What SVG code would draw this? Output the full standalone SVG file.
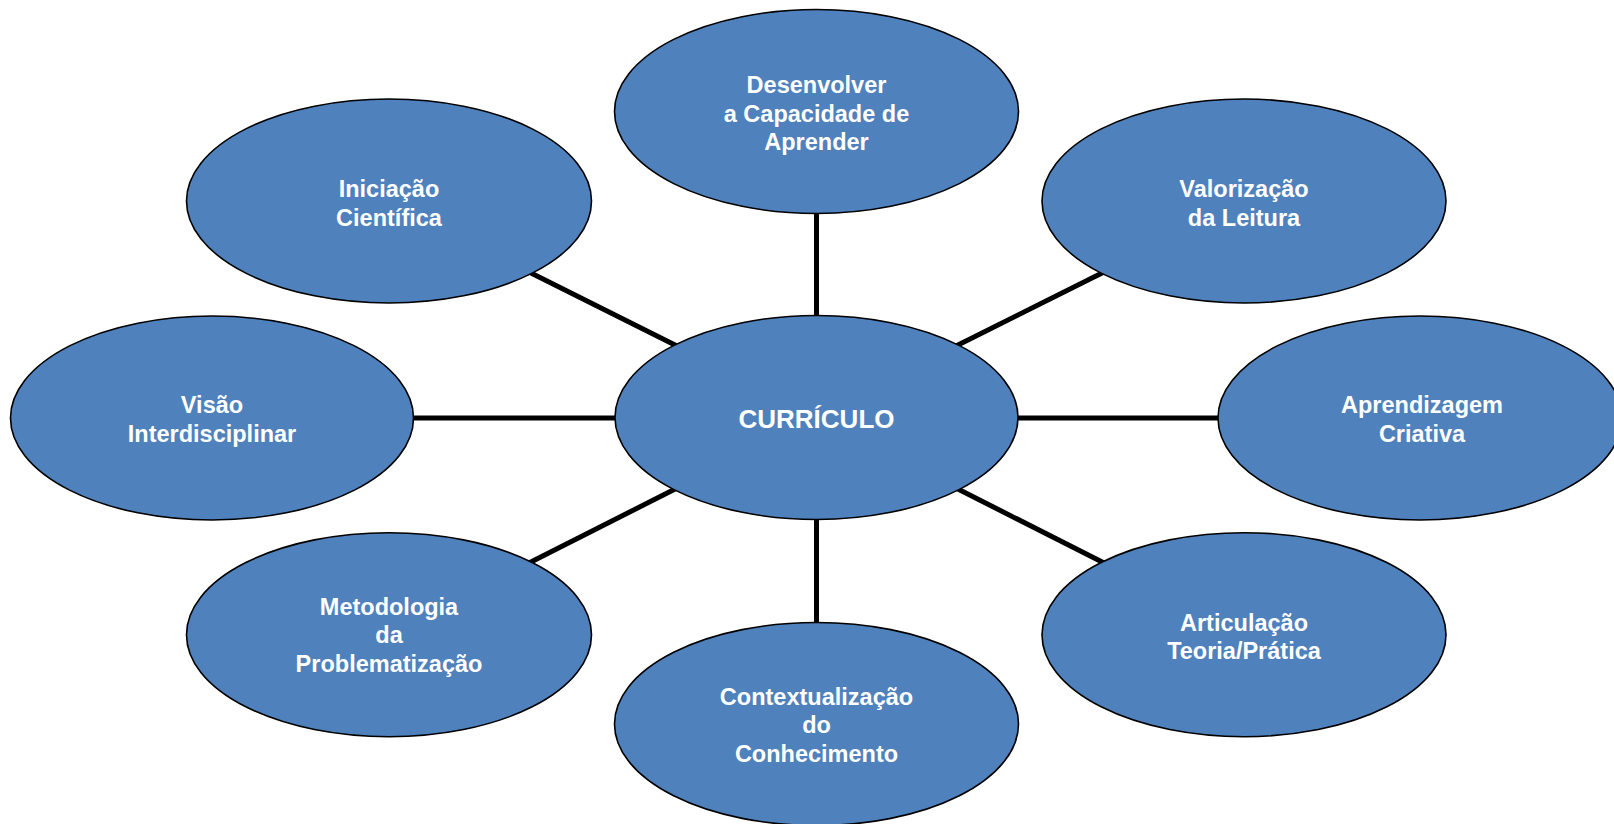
<svg xmlns="http://www.w3.org/2000/svg" width="1614" height="824" viewBox="0 0 1614 824">
<style>
.node ellipse{fill:#4F81BD;stroke:#000;stroke-width:1.6}
.node text{font-family:"Liberation Sans",Arial,sans-serif;font-weight:bold;font-size:23.5px;fill:#fff;text-anchor:middle}
#connectors line{stroke:#000;stroke-width:5}
</style>
<rect width="1614" height="824" fill="#fff"/>
<g id="connectors">
<line x1="816.5" y1="200" x2="816.5" y2="330"/>
<line x1="816.5" y1="505" x2="816.5" y2="635"/>
<line x1="400" y1="418" x2="630" y2="418"/>
<line x1="1000" y1="418" x2="1230" y2="418"/>
<line x1="522" y1="268.5" x2="685" y2="350"/>
<line x1="1111" y1="268.5" x2="948" y2="350"/>
<line x1="522" y1="566.5" x2="685" y2="484"/>
<line x1="1111" y1="566.5" x2="948" y2="484"/>
</g>
<g id="curriculo" class="node">
<ellipse cx="816.5" cy="417.5" rx="201.5" ry="102"/>
<text x="816.5" y="428" style="font-size:26px">CURRÍCULO</text>
</g>
<g id="desenvolver" class="node">
<ellipse cx="816.5" cy="111.5" rx="202" ry="102"/>
<text x="816.5" y="93">Desenvolver</text>
<text x="816.5" y="121.5">a Capacidade de</text>
<text x="816.5" y="150">Aprender</text>
</g>
<g id="iniciacao" class="node">
<ellipse cx="389" cy="201" rx="202.5" ry="102"/>
<text x="389" y="197">Iniciação</text>
<text x="389" y="225.5">Científica</text>
</g>
<g id="valorizacao" class="node">
<ellipse cx="1244" cy="201" rx="202" ry="102"/>
<text x="1244" y="197">Valorização</text>
<text x="1244" y="225.5">da Leitura</text>
</g>
<g id="visao" class="node">
<ellipse cx="212" cy="418" rx="201.5" ry="102"/>
<text x="212" y="413">Visão</text>
<text x="212" y="441.5">Interdisciplinar</text>
</g>
<g id="aprendizagem" class="node">
<ellipse cx="1420" cy="418" rx="202" ry="102"/>
<text x="1422" y="413">Aprendizagem</text>
<text x="1422" y="441.5">Criativa</text>
</g>
<g id="metodologia" class="node">
<ellipse cx="389" cy="634.7" rx="202.5" ry="102"/>
<text x="389" y="614.5">Metodologia</text>
<text x="389" y="643">da</text>
<text x="389" y="671.5">Problematização</text>
</g>
<g id="contextualizacao" class="node">
<ellipse cx="816.5" cy="724" rx="202" ry="101.5"/>
<text x="816.5" y="705">Contextualização</text>
<text x="816.5" y="733">do</text>
<text x="816.5" y="761.5">Conhecimento</text>
</g>
<g id="articulacao" class="node">
<ellipse cx="1244" cy="634.7" rx="202" ry="102"/>
<text x="1244" y="630.5">Articulação</text>
<text x="1244" y="659">Teoria/Prática</text>
</g>
</svg>
